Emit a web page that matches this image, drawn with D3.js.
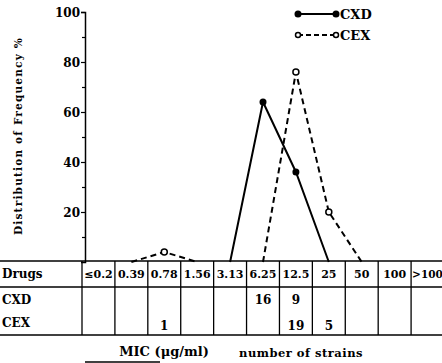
<!DOCTYPE html>
<html><head><meta charset="utf-8">
<script src="https://cdn.jsdelivr.net/npm/d3@7"></script>
<style>body{margin:0;background:#fff}svg{display:block}text{font-family:"DejaVu Serif",serif;font-weight:bold;fill:#000}</style>
</head><body><svg id="c" width="442" height="363"></svg>
<script>
const mic = ["≤0.2","0.39","0.78","1.56","3.13","6.25","12.5","25","50","100",">100"];
const cxdPct = [null,null,null,null,0,64,36,0,null,null,null];
const cexPct = [null,0,4,0,null,0,76,20,0,null,null];
const cxdN = ["","","","","","16","9","","","",""];
const cexN = ["","","1","","","","19","5","","",""];
const yTicks = [10,20,30,40,50,60,70,80,90,100];

const svg = d3.select("#c");
const x = d3.scaleBand().domain(mic).range([82,444]);
const y = d3.scaleLinear().domain([0,100]).range([262,12]);
const cx = d => x(d) + x.bandwidth()/2;

// y axis
const ax = svg.append("g").attr("transform","translate(85,0)")
  .call(d3.axisLeft(y).tickValues(yTicks).tickSize(4).tickPadding(1)
    .tickFormat(d => d % 20 === 0 ? d : ""));
ax.select(".domain").attr("stroke","#000").attr("stroke-width",1.5);
ax.selectAll(".tick line").attr("stroke","#000").attr("stroke-width",1.2);
ax.selectAll(".tick text").style("font-family","DejaVu Serif").style("font-weight","bold").style("font-size","12px").attr("dy","0.35em");
ax.selectAll(".tick").filter(d => d % 20 !== 0).select("line").attr("x2",-3);

svg.append("text").attr("transform","translate(22,136) rotate(-90)").attr("text-anchor","middle")
  .style("font-size","10.5px").style("letter-spacing","1.2px").text("Distribution of Frequency %");

// table lines
const tTop = 261, r1 = 287, tBot = 335;
[tTop, r1, tBot].forEach(yy => svg.append("line").attr("x1",0).attr("x2",442).attr("y1",yy).attr("y2",yy).attr("stroke","#000").attr("stroke-width",1.5));
mic.forEach(m => svg.append("line").attr("x1",x(m)).attr("x2",x(m)).attr("y1",tTop).attr("y2",tBot).attr("stroke","#000").attr("stroke-width",1.3));

svg.append("text").attr("x",2).attr("y",278).style("font-size","12px").text("Drugs");
svg.append("text").attr("x",2).attr("y",304).style("font-size","12px").text("CXD");
svg.append("text").attr("x",2).attr("y",327).style("font-size","12px").text("CEX");
mic.forEach((m,i) => {
  const last = i === mic.length - 1;
  svg.append("text").attr("x", last ? x(m) + 1 : cx(m)).attr("y",278)
    .attr("text-anchor", last ? "start" : "middle").style("font-size", last ? "10.5px" : "11px").text(m);
  svg.append("text").attr("x",cx(m)).attr("y",304).attr("text-anchor","middle").style("font-size","12px").text(cxdN[i]);
  svg.append("text").attr("x",cx(m)).attr("y",330).attr("text-anchor","middle").style("font-size","12px").text(cexN[i]);
});

// lines
const line = d3.line().defined(d => d.v != null).x(d => cx(d.m)).y(d => y(d.v));
const cxd = mic.map((m,i) => ({m, v: cxdPct[i]}));
const cex = mic.map((m,i) => ({m, v: cexPct[i]}));
svg.append("path").attr("d", line(cxd)).attr("fill","none").attr("stroke","#000").attr("stroke-width",2);
svg.append("path").attr("d", line(cex)).attr("fill","none").attr("stroke","#000").attr("stroke-width",2).attr("stroke-dasharray","6,4");
svg.selectAll(".p1").data(cxd.filter(d => d.v > 0)).enter().append("circle")
  .attr("cx", d => cx(d.m)).attr("cy", d => y(d.v)).attr("r",3.5).attr("fill","#000");
svg.selectAll(".p2").data(cex.filter(d => d.v > 0)).enter().append("circle")
  .attr("cx", d => cx(d.m)).attr("cy", d => y(d.v)).attr("r",3).attr("fill","#fff").attr("stroke","#000").attr("stroke-width",1.5);

// legend
svg.append("line").attr("x1",298).attr("x2",336).attr("y1",14).attr("y2",14).attr("stroke","#000").attr("stroke-width",2);
[298,336].forEach(xx => svg.append("circle").attr("cx",xx).attr("cy",14).attr("r",3.5).attr("fill","#000"));
svg.append("text").attr("x",340).attr("y",19).style("font-size","13px").text("CXD");
svg.append("line").attr("x1",298).attr("x2",336).attr("y1",35).attr("y2",35).attr("stroke","#000").attr("stroke-width",2).attr("stroke-dasharray","5,3");
[298,336].forEach(xx => svg.append("circle").attr("cx",xx).attr("cy",35).attr("r",2.5).attr("fill","#fff").attr("stroke","#000").attr("stroke-width",1.5));
svg.append("text").attr("x",340).attr("y",40).style("font-size","13px").text("CEX");

// bottom labels
svg.append("text").attr("x",164).attr("y",356).attr("text-anchor","middle").style("font-size","13px").text("MIC (μg/ml)");
svg.append("line").attr("x1",85).attr("x2",160).attr("y1",362).attr("y2",362).attr("stroke","#000").attr("stroke-width",1.5);
svg.append("text").attr("x",301).attr("y",357).attr("text-anchor","middle").style("font-size","11.5px").style("letter-spacing","0.5px").text("number of strains");
</script></body></html>
